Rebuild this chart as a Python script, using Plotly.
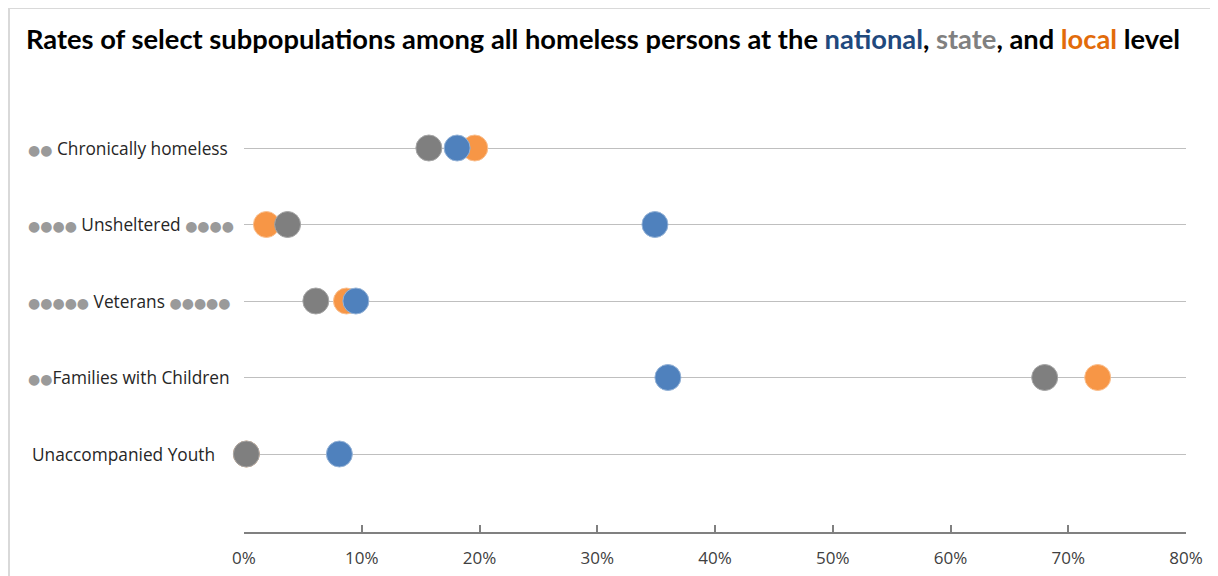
import plotly.graph_objects as go

categories = ["Unaccompanied Youth", "Families with Children", "Veterans", "Unsheltered", "Chronically homeless"]
label_left_dots = [0, 2, 5, 4, 2]
label_right_dots = [0, 0, 5, 4, 0]
local_vals = [0.2, 72.5, 8.7, 1.9, 19.6]
state_vals = [0.2, 68.0, 6.1, 3.7, 15.7]
national_vals = [8.1, 36.0, 9.5, 34.9, 18.1]
x_ticks = [0, 10, 20, 30, 40, 50, 60, 70, 80]
x_tick_labels = [f"{v}%" for v in x_ticks]

W, H = 1218, 576
L, R, T, B = 236, 40, 82, 52
pw, ph = W - L - R, H - T - B
row0_px, row_step = 446, 76.5

def px_x(p):
    return (p - L) / pw

def px_y(p):
    return (H - B - p) / ph

fig = go.Figure()
ypos = list(range(len(categories)))
series = [
    ("local", local_vals, "#F79646", "#FAC090"),
    ("state", state_vals, "#7F7F7F", "#A6A6A6"),
    ("national", national_vals, "#4F81BD", "#95B3D7"),
]
for name, vals, col, lc in series:
    fig.add_trace(go.Scatter(
        x=vals, y=ypos, mode="markers", name=name,
        marker=dict(size=26, color=col, line=dict(width=1, color=lc)),
        showlegend=False, cliponaxis=False,
    ))

font_family = "Open Sans, Noto Sans, sans-serif"
dot_style = "color:#9A9A9A;font-size:14px;font-family:DejaVu Sans"
for i, cat in enumerate(categories):
    left = "●" * label_left_dots[i]
    right = "●" * label_right_dots[i]
    txt = ""
    if left:
        txt += f"<span style='{dot_style}'>{left}</span>" + (" " if cat != "Families with Children" else "")
    txt += cat
    if right:
        txt += f" <span style='{dot_style}'>{right}</span>"
    fig.add_annotation(
        x=px_x(18 if left else 22), y=i, xref="paper", yref="y", text=txt, showarrow=False,
        xanchor="left", yanchor="middle",
        font=dict(family=font_family, size=17.3, color="#262626"),
    )

title = ("<b>Rates of select subpopulations among all homeless persons at the "
         "<span style='color:#1F497D'>national</span>, "
         "<span style='color:#808080'>state</span>, and "
         "<span style='color:#E26B0A'>local</span> level</b>")
fig.add_annotation(
    x=px_x(16), y=px_y(31), xref="paper", yref="paper", text=title, showarrow=False,
    xanchor="left", yanchor="middle",
    font=dict(family="Lato, Open Sans, sans-serif", size=27.3, color="#000000"),
)

fig.add_shape(type="rect", xref="paper", yref="paper",
              x0=px_x(1), x1=px_x(1240), y0=px_y(600), y1=px_y(0),
              line=dict(color="#D9D9D9", width=2), fillcolor="rgba(0,0,0,0)", layer="below")

fig.update_layout(
    width=W, height=H,
    margin=dict(l=L, r=R, t=T, b=B),
    paper_bgcolor="white", plot_bgcolor="white",
    xaxis=dict(
        range=[0, 80], tickvals=x_ticks, ticktext=x_tick_labels,
        showgrid=False, zeroline=False,
        showline=True, linecolor="#808080", linewidth=1.5,
        ticks="inside", ticklen=7, tickcolor="#808080", tickwidth=1.5,
        tickfont=dict(family=font_family, size=17, color="#404040"),
        ticklabelstandoff=10,
    ),
    yaxis=dict(
        range=[-(H - B - row0_px) / row_step, (row0_px - T) / row_step],
        tickvals=ypos, showticklabels=False,
        showgrid=True, gridcolor="#BFBFBF", gridwidth=1.2,
        zeroline=False, showline=False,
    ),
)

fig.write_html("out.html")
